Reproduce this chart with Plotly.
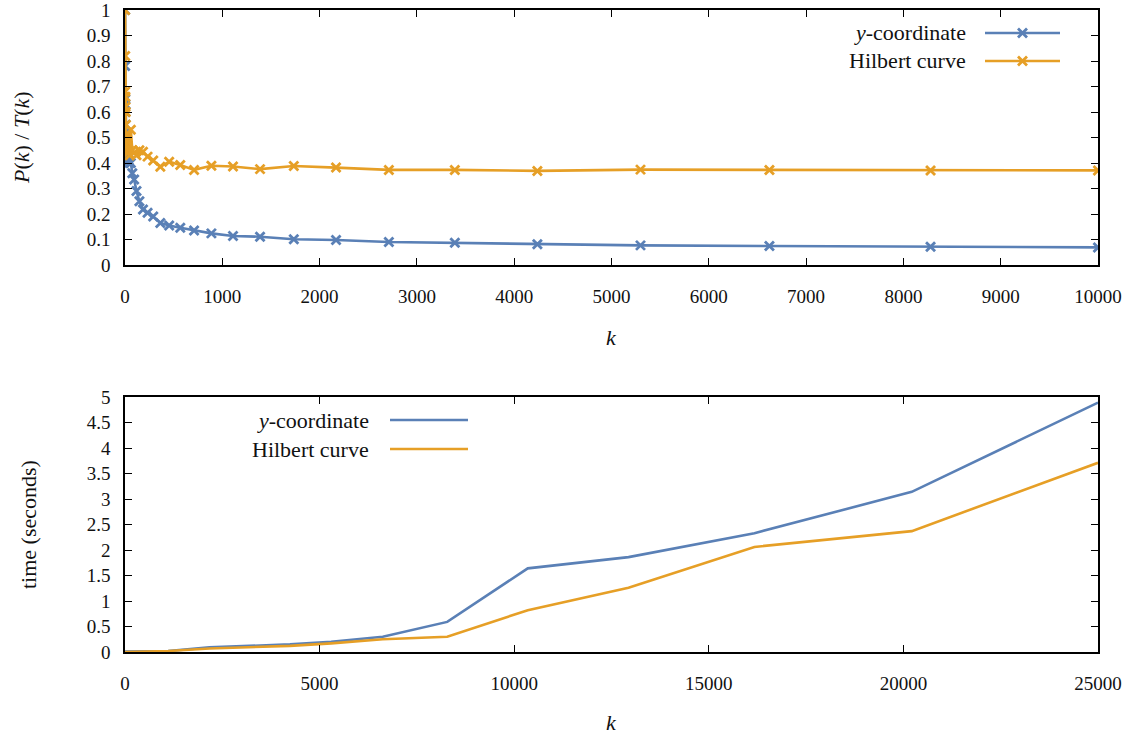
import plotly.graph_objects as go

# ---------------- data ----------------
k_ratio = [1, 2, 3, 4, 5, 7, 9, 12, 15, 19, 24, 30, 38, 48, 60, 75, 94, 118, 148, 185,
           232, 290, 363, 454, 568, 710, 888, 1110, 1388, 1735, 2169, 2712, 3390, 4238,
           5298, 6623, 8279, 10000]
ycoord_ratio = [1.0, 0.78, 0.65, 0.63, 0.60, 0.55, 0.52, 0.48, 0.45, 0.44, 0.43, 0.42, 0.41, 0.40,
                0.40, 0.36, 0.335, 0.29, 0.25, 0.218, 0.205, 0.19, 0.165, 0.155, 0.146, 0.135,
                0.124, 0.114, 0.111, 0.101, 0.098, 0.090, 0.087, 0.081, 0.077, 0.0745, 0.072, 0.069]
hilbert_ratio = [1.0, 0.82, 0.68, 0.66, 0.62, 0.60, 0.55, 0.50, 0.47, 0.49, 0.46, 0.44, 0.45, 0.43,
                 0.53, 0.45, 0.44, 0.43, 0.45, 0.444, 0.425, 0.41, 0.385, 0.405, 0.392, 0.373,
                 0.389, 0.386, 0.376, 0.388, 0.382, 0.373, 0.373, 0.369, 0.374, 0.373, 0.371, 0.371]

k_time = [1, 1110, 2169, 3390, 4238, 5298, 6623, 8279, 10349, 12937, 16172, 20215, 25000]
ycoord_time = [0.01, 0.02, 0.09, 0.12, 0.15, 0.20, 0.30, 0.59, 1.64, 1.86, 2.33, 3.14, 4.89]
hilbert_time = [0.0, 0.02, 0.07, 0.10, 0.12, 0.17, 0.25, 0.30, 0.82, 1.26, 2.06, 2.37, 3.71]

series_names = ["<i>y</i>-coordinate", "Hilbert curve"]

# ---------------- style ----------------
BLUE = "#5a80b6"
ORANGE = "#e69f26"
FONT = "Liberation Serif, serif"
TEXT_SIZE = 22
W, H = 1130, 738
X0, X1 = 125, 1098
TOP_Y0, TOP_Y1 = 10, 265
BOT_Y0, BOT_Y1 = 397, 652

def px_x(p):
    return p / W

def px_y(p):
    return 1 - p / H

fig = go.Figure()

def marker(color):
    return dict(symbol="x-thin", size=9, line=dict(width=2.8, color=color), color=color)

fig.add_trace(go.Scatter(x=k_ratio, y=ycoord_ratio, mode="lines+markers",
                         line=dict(color=BLUE, width=2.6), marker=marker(BLUE),
                         xaxis="x", yaxis="y", showlegend=False))
fig.add_trace(go.Scatter(x=k_ratio, y=hilbert_ratio, mode="lines+markers",
                         line=dict(color=ORANGE, width=2.6), marker=marker(ORANGE),
                         xaxis="x", yaxis="y", showlegend=False))
fig.add_trace(go.Scatter(x=k_time, y=ycoord_time, mode="lines",
                         line=dict(color=BLUE, width=2.6),
                         xaxis="x2", yaxis="y2", showlegend=False))
fig.add_trace(go.Scatter(x=k_time, y=hilbert_time, mode="lines",
                         line=dict(color=ORANGE, width=2.6),
                         xaxis="x2", yaxis="y2", showlegend=False))

# ---------------- custom gnuplot-style legends (on a hidden pixel overlay axis) ----------------
legend_specs = [
    (968, 985, 1060, [33, 61], True),
    (371, 390, 468, [420, 449], False),
]
colors = [BLUE, ORANGE]
annotations = []
for tx, lx0, lx1, rows, with_markers in legend_specs:
    for name, col, ry in zip(series_names, colors, rows):
        fig.add_trace(go.Scatter(x=[lx0, lx1], y=[ry, ry], mode="lines",
                                 line=dict(color=col, width=2.6),
                                 xaxis="x3", yaxis="y3", showlegend=False, hoverinfo="skip"))
        if with_markers:
            fig.add_trace(go.Scatter(x=[(lx0 + lx1) / 2], y=[ry], mode="markers",
                                     marker=marker(col),
                                     xaxis="x3", yaxis="y3", showlegend=False, hoverinfo="skip"))
        annotations.append(dict(x=px_x(tx), y=px_y(ry), xref="paper", yref="paper",
                                text=name, showarrow=False, xanchor="right", yanchor="middle",
                                font=dict(family=FONT, size=TEXT_SIZE, color="#111")))

# axis titles
annotations += [
    dict(x=px_x(611), y=px_y(337), xref="paper", yref="paper", text="<i>k</i>",
         showarrow=False, xanchor="center", yanchor="middle",
         font=dict(family=FONT, size=TEXT_SIZE, color="#111")),
    dict(x=px_x(611), y=px_y(722), xref="paper", yref="paper", text="<i>k</i>",
         showarrow=False, xanchor="center", yanchor="middle",
         font=dict(family=FONT, size=TEXT_SIZE, color="#111")),
    dict(x=px_x(21), y=px_y(138), xref="paper", yref="paper",
         text="<i>P</i>(<i>k</i>) / <i>T</i>(<i>k</i>)", textangle=-90,
         showarrow=False, xanchor="center", yanchor="middle",
         font=dict(family=FONT, size=TEXT_SIZE, color="#111")),
    dict(x=px_x(28), y=px_y(525), xref="paper", yref="paper", text="time (seconds)",
         textangle=-90, showarrow=False, xanchor="center", yanchor="middle",
         font=dict(family=FONT, size=TEXT_SIZE, color="#111")),
]

axis_common = dict(showline=True, linecolor="black", linewidth=1.5, mirror="allticks",
                   ticks="inside", ticklen=7, tickwidth=1.2, tickcolor="black",
                   showgrid=False, zeroline=False, automargin=False,
                   ticklabeloverflow="allow",
                   tickfont=dict(family=FONT, size=19, color="#111"))

fig.update_layout(
    width=W, height=H,
    margin=dict(l=0, r=0, t=0, b=0),
    font=dict(family=FONT, size=19, color="#111"),
    paper_bgcolor="white", plot_bgcolor="rgba(0,0,0,0)",
    xaxis=dict(domain=[px_x(X0), px_x(X1)], anchor="y", range=[0, 10000],
               dtick=1000, tick0=0, tickformat="d", ticklabelstandoff=13, **axis_common),
    yaxis=dict(domain=[px_y(TOP_Y1), px_y(TOP_Y0)], anchor="x", range=[0, 1],
               dtick=0.1, tick0=0, ticklabelstandoff=9, **axis_common),
    xaxis2=dict(domain=[px_x(X0), px_x(X1)], anchor="y2", range=[0, 25000],
                dtick=5000, tick0=0, tickformat="d", ticklabelstandoff=13, **axis_common),
    yaxis2=dict(domain=[px_y(BOT_Y1), px_y(BOT_Y0)], anchor="x2", range=[0, 5],
                dtick=0.5, tick0=0, ticklabelstandoff=9, **axis_common),
    xaxis3=dict(domain=[0, 1], range=[0, W], visible=False, anchor="y3", fixedrange=True),
    yaxis3=dict(domain=[0, 1], range=[H, 0], visible=False, anchor="x3", fixedrange=True),
    annotations=annotations,
    showlegend=False,
)

fig.write_html("out.html")
